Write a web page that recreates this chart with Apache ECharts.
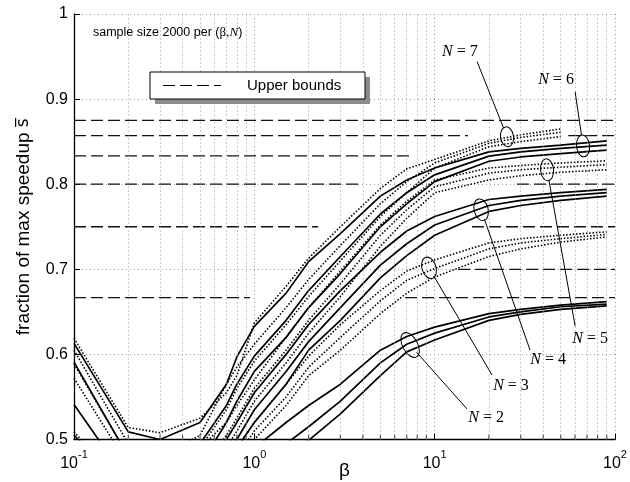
<!DOCTYPE html>
<html>
<head>
<meta charset="utf-8">
<script src="https://cdn.jsdelivr.net/npm/echarts@6/dist/echarts.min.js"></script>
<style>html,body{margin:0;background:#fff}#main{width:630px;height:482px}</style>
</head>
<body>
<div id="main"></div>
<script>
// beta values where curves were read
const betas = [0.1, 0.2, 0.3, 0.5, 0.7, 0.8, 1, 1.5, 2, 3, 5, 7, 10, 20, 30, 50, 90];

// N = 7 (dotted)
const n7a = [.619, .514, .508, .525, .555, .575, .637, .680, .713, .750, .795, .818, .829, .851, .858, .865, null];
const n7b = [.605, .495, .480, .505, .565, .585, .612, .655, .688, .728, .777, .803, .825, .848, .855, .861, null];
const n7c = [.572, .470, .460, .490, .535, .560, .592, .635, .668, .710, .762, .790, .819, .844, .850, .856, null];
// N = 6 (solid)
const n6a = [.613, .509, .500, .520, .565, .597, .633, .672, .709, .742, .786, .805, .819, .838, .842, .846, .851];
const n6b = [.591, .480, .470, .495, .540, .565, .598, .640, .675, .715, .765, .790, .811, .833, .838, .842, .846];
const n6c = [.541, .450, .440, .470, .520, .545, .580, .620, .655, .695, .750, .777, .803, .827, .832, .836, .840];
// N = 5 (dotted)
const n5a = [.589, .480, .460, .490, .520, .540, .570, .620, .655, .698, .752, .780, .805, .819, .822, .825, .8275];
const n5b = [.509, .440, .430, .460, .505, .525, .560, .605, .640, .683, .740, .770, .797, .813, .817, .820, .823];
const n5c = [.480, .420, .420, .450, .490, .510, .545, .590, .625, .668, .727, .760, .790, .805, .810, .814, .817];
// N = 4 (solid)
const n4a = [.505, .440, .430, .460, .500, .520, .555, .600, .635, .675, .720, .745, .762, .782, .786, .790, .794];
const n4b = [.470, .420, .410, .440, .480, .500, .535, .580, .615, .655, .705, .730, .752, .775, .781, .786, .790];
const n4c = [.450, .400, .400, .430, .470, .490, .520, .565, .605, .640, .690, .716, .740, .768, .775, .781, .786];
// N = 3 (dotted)
const n3a = [.460, .410, .400, .430, .470, .490, .520, .565, .598, .635, .675, .698, .711, .731, .736, .740, .744];
const n3b = [.440, .400, .390, .420, .460, .480, .510, .550, .585, .620, .663, .687, .701, .724, .731, .736, .741];
const n3c = [.430, .390, .380, .410, .450, .470, .500, .540, .575, .605, .648, .672, .691, .715, .724, .732, .738];
// N = 2 (solid)
const n2a = [.440, .400, .390, .420, .450, .470, .490, .520, .540, .565, .605, .621, .632, .648, .653, .658, .662];
const n2b = [.420, .380, .370, .400, .430, .450, .470, .495, .515, .545, .590, .612, .625, .644, .650, .656, .659];
const n2c = [.400, .370, .360, .390, .420, .440, .460, .480, .499, .530, .575, .603, .617, .640, .647, .653, .657];

// upper bounds N/(N+1) and the beta ranges where the dashed line is drawn
const boundLevels = [7 / 8, 6 / 7, 5 / 6, 4 / 5, 3 / 4, 0.7, 2 / 3];
const boundRanges = [
  [[0.1, 100]],
  [[0.1, 15.3], [55, 100]],
  [[0.1, 7.6]],
  [[0.1, 3.76], [28.6, 100]],
  [[0.1, 2.26], [16.1, 100]],
  [[13.5, 100]],
  [[0.1, 0.946], [6.85, 100]]
];

const minorX = [0.2, 0.3, 0.4, 0.5, 0.6, 0.7, 0.8, 0.9, 2, 3, 4, 5, 6, 7, 8, 9, 20, 30, 40, 50, 60, 70, 80, 90];

// annotation labels: ellipse centre, label centre, leader start (data coords)
const notes = [
  { n: 7, ell: [25.2, 0.8557], rx: 6.5, ry: 10, rot: 0.15, lab: [13.8, 0.956], from: [17.2, 0.944] },
  { n: 6, ell: [66.5, 0.845], rx: 6.5, ry: 11, rot: 0.1, lab: [47.1, 0.9227], from: [60.1, 0.9086] },
  { n: 5, ell: [42.0, 0.8169], rx: 6.5, ry: 11, rot: 0.1, lab: [72.8, 0.618], from: [60.1, 0.6335] },
  { n: 4, ell: [18.1, 0.770], rx: 7, ry: 11, rot: 0.25, lab: [42.6, 0.5935], from: [33.8, 0.605] },
  { n: 3, ell: [9.3, 0.7017], rx: 7, ry: 11, rot: 0.3, lab: [26.5, 0.563], from: [20.8, 0.5758] },
  { n: 2, ell: [7.31, 0.611], rx: 7.5, ry: 13.5, rot: 0.5, lab: [19.3, 0.525], from: [15.1, 0.536] }
];

const curves = [
  [n7a, 'dot'], [n7b, 'dot'], [n7c, 'dot'],
  [n6a, 'solid'], [n6b, 'solid'], [n6c, 'solid'],
  [n5a, 'dot'], [n5b, 'dot'], [n5c, 'dot'],
  [n4a, 'solid'], [n4b, 'solid'], [n4c, 'solid'],
  [n3a, 'dot'], [n3b, 'dot'], [n3c, 'dot'],
  [n2a, 'solid'], [n2b, 'solid'], [n2c, 'solid']
];

const chart = echarts.init(document.getElementById('main'));
const sans = 'Liberation Sans';
const serif = 'Liberation Serif';
const gridDots = { color: '#9a9a9a', width: 1, type: [1, 3] };

let series = [];

// minor grid lines + minor ticks
series.push({
  type: 'line', data: [], silent: true,
  markLine: {
    silent: true, symbol: 'none', label: { show: false }, animation: false,
    lineStyle: gridDots,
    data: minorX.map(v => ({ xAxis: v }))
  }
});
series.push({
  type: 'scatter', silent: true, symbol: 'rect', symbolSize: [1, 5], symbolOffset: [0, -2.5],
  itemStyle: { color: '#000' },
  data: minorX.map(v => [v, 0.5])
});

curves.forEach(([vals, kind]) => {
  let data = [];
  betas.forEach((b, i) => { if (vals[i] != null) data.push([b, vals[i]]); });
  series.push({
    type: 'line', data: data, symbol: 'none', silent: true, z: 3,
    lineStyle: { color: '#000', width: kind === 'dot' ? 1.6 : 1.7, type: kind === 'dot' ? [1.5, 1.8] : 'solid' }
  });
});

let boundData = [];
boundLevels.forEach((lv, i) => {
  boundRanges[i].forEach(r => {
    boundData.push([r[0], lv], [r[1], lv], [r[1], null]);
  });
});
series.push({
  name: 'Upper bounds', type: 'line', data: boundData, symbol: 'none', silent: true, z: 2,
  connectNulls: false,
  lineStyle: { color: '#111', width: 1.3, type: [12, 5] }
});

chart.setOption({
  animation: false,
  grid: { left: 74, right: 15, top: 14, bottom: 42.5, outerBoundsMode: 'none' },
  xAxis: {
    type: 'log', logBase: 10, min: 0.1, max: 100,
    name: 'β', nameLocation: 'middle', nameGap: 22, nameMoveOverlap: false,
    nameTextStyle: { fontFamily: sans, fontSize: 19, color: '#000' },
    axisLine: { lineStyle: { color: '#000', width: 1.3 } },
    axisTick: { inside: true, length: 6, lineStyle: { color: '#000' } },
    axisLabel: {
      margin: 10, color: '#000',
      formatter: v => '{b|10}{e|' + Math.round(Math.log10(v)) + '}',
      rich: {
        b: { fontFamily: sans, fontSize: 16, lineHeight: 22, verticalAlign: 'bottom', color: '#000' },
        e: { fontFamily: sans, fontSize: 11, lineHeight: 22, verticalAlign: 'top', color: '#000' }
      }
    },
    splitLine: { show: true, lineStyle: gridDots }
  },
  yAxis: {
    type: 'value', min: 0.5, max: 1, interval: 0.1,
    name: 'fraction of max speedup {s|s\u0305}', nameLocation: 'middle', nameGap: 41, nameMoveOverlap: false,
    nameTextStyle: { fontFamily: sans, fontSize: 19, color: '#000',
      rich: { s: { fontFamily: 'DejaVu Sans', fontSize: 17, color: '#000' } } },
    axisLine: { show: true, lineStyle: { color: '#000', width: 1.3 } },
    axisTick: { show: true, inside: true, length: 6, lineStyle: { color: '#000' } },
    axisLabel: { fontFamily: sans, fontSize: 16, color: '#000', margin: 6 },
    splitLine: { show: true, lineStyle: gridDots }
  },
  series: series
});

// annotations and legend box
const px = p => chart.convertToPixel({ gridIndex: 0 }, p);
let g = [];
notes.forEach(a => {
  const c = px(a.ell), s = px(a.from), l = px(a.lab);
  const dx = s[0] - c[0], dy = s[1] - c[1];
  const k = 1 / Math.sqrt((dx / a.rx) ** 2 + (dy / a.ry) ** 2);
  g.push({ type: 'ellipse', x: c[0], y: c[1], rotation: a.rot, z: 10,
    shape: { cx: 0, cy: 0, rx: a.rx, ry: a.ry }, style: { fill: null, stroke: '#000', lineWidth: 1 } });
  g.push({ type: 'line', z: 10, shape: { x1: s[0], y1: s[1], x2: c[0] + dx * k, y2: c[1] + dy * k },
    style: { stroke: '#000', lineWidth: 1 } });
  g.push({ type: 'text', x: l[0], y: l[1], z: 10,
    style: { text: '{i|N} = ' + a.n, align: 'center', verticalAlign: 'middle',
      fontFamily: serif, fontSize: 16, fill: '#000',
      rich: { i: { fontFamily: serif, fontStyle: 'italic', fontSize: 16, fill: '#000' } } } });
});

g.push({ type: 'text', x: 93, y: 33, z: 10,
  style: { text: 'sample size 2000 per ({s|β},{i|N})', verticalAlign: 'middle',
    fontFamily: sans, fontSize: 12.5, fill: '#000',
    rich: { s: { fontFamily: serif, fontSize: 13, fill: '#000' },
            i: { fontFamily: serif, fontStyle: 'italic', fontSize: 13, fill: '#000' } } } });

g.push({ type: 'rect', z: 10, shape: { x: 155, y: 77, width: 215, height: 27 }, style: { fill: '#8c8c8c' } });
g.push({ type: 'rect', z: 11, shape: { x: 150, y: 72, width: 215, height: 27 }, style: { fill: '#fff', stroke: '#000', lineWidth: 1 } });
g.push({ type: 'line', z: 12, shape: { x1: 163, y1: 85.5, x2: 221, y2: 85.5 }, style: { stroke: '#000', lineWidth: 1.2, lineDash: [12, 5] } });
g.push({ type: 'text', z: 12, x: 247, y: 85.5,
  style: { text: 'Upper bounds', verticalAlign: 'middle', fontFamily: sans, fontSize: 15, fill: '#000' } });

chart.setOption({ graphic: g });
</script>
</body>
</html>
